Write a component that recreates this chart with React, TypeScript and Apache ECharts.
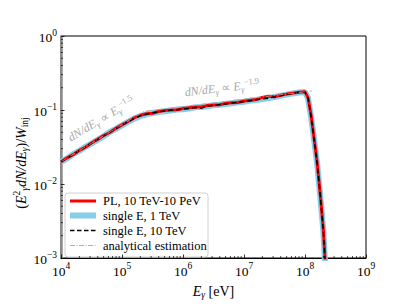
import React, { useEffect, useRef } from "react";
import * as echarts from "echarts";

// photon energies [eV]
const ENERGY = [
  1.0e4, 1.26e4, 1.58e4, 2.0e4, 2.51e4, 3.16e4, 3.98e4, 5.01e4, 6.31e4, 7.94e4,
  1.0e5, 1.26e5, 1.58e5, 2.0e5, 2.51e5, 3.16e5, 3.98e5, 5.01e5, 6.31e5, 7.94e5,
  1.0e6, 1.26e6, 1.58e6, 2.0e6, 2.51e6, 3.16e6, 3.98e6, 5.01e6, 6.31e6, 7.94e6,
  1.0e7, 1.26e7, 1.58e7, 2.0e7, 2.51e7, 3.16e7, 3.98e7, 5.01e7, 6.31e7, 7.94e7,
  1.0e8, 1.12e8, 1.26e8, 1.41e8, 1.58e8, 1.78e8, 2.0e8, 2.14e8,
];

const PL_10TEV_10PEV = [
  0.0200, 0.0226, 0.0249, 0.0285, 0.0314, 0.0358, 0.0401, 0.0452, 0.0497, 0.0565,
  0.0630, 0.0700, 0.0780, 0.0850, 0.0890, 0.0905, 0.0955, 0.0985, 0.1000, 0.1005,
  0.1045, 0.1070, 0.1095, 0.1100, 0.1150, 0.1170, 0.1175, 0.1230, 0.1250, 0.1265,
  0.1320, 0.1350, 0.1390, 0.1480, 0.1530, 0.1510, 0.1580, 0.1640, 0.1690, 0.1740,
  0.1760, 0.1470, 0.0840, 0.0410, 0.0195, 0.0072, 0.0024, 0.0009,
];

const SINGLE_1TEV = [
  0.0198, 0.0222, 0.0253, 0.0280, 0.0318, 0.0352, 0.0395, 0.0442, 0.0505, 0.0555,
  0.0620, 0.0690, 0.0765, 0.0825, 0.0875, 0.0910, 0.0940, 0.0960, 0.0985, 0.1015,
  0.1025, 0.1050, 0.1085, 0.1100, 0.1125, 0.1160, 0.1175, 0.1205, 0.1235, 0.1275,
  0.1295, 0.1340, 0.1365, 0.1405, 0.1445, 0.1495, 0.1555, 0.1615, 0.1675, 0.1725,
  0.1745, 0.1440, 0.0810, 0.0395, 0.0188, 0.0069, 0.0023, 0.0008,
];

const SINGLE_10TEV = [
  0.0201, 0.0223, 0.0250, 0.0283, 0.0315, 0.0356, 0.0397, 0.0448, 0.0499, 0.0561,
  0.0624, 0.0696, 0.0772, 0.0832, 0.0878, 0.0912, 0.0948, 0.0968, 0.0992, 0.1008,
  0.1032, 0.1052, 0.1078, 0.1060, 0.1128, 0.1152, 0.1182, 0.1208, 0.1242, 0.1268,
  0.1302, 0.1332, 0.1372, 0.1412, 0.1448, 0.1502, 0.1558, 0.1622, 0.1678, 0.1732,
  0.1752, 0.1452, 0.0822, 0.0402, 0.0191, 0.0070, 0.0023, 0.0009,
];

// analytical estimation (broken power law)
const ANALYTIC_E = [1.0e4, 2.29e5, 1.3e8];
const ANALYTIC_Y = [0.02, 0.096, 0.181];

// axis ticks
const X_DECADES = [4, 5, 6, 7, 8, 9];
const Y_DECADES = [-3, -2, -1, 0];
const MINOR_MULT = [2, 3, 4, 5, 6, 7, 8, 9];

const LEGEND_NAMES = ["PL, 10 TeV-10 PeV", "single E, 1 TeV", "single E, 10 TeV", "analytical estimation"];

const FONT = "Liberation Serif";
const GRAY = "#a6a6a6";
const BLUE = "#87ceeb";
const RED = "#ff0000";

const X_MINOR: number[] = [];
X_DECADES.slice(0, -1).forEach((d) => MINOR_MULT.forEach((m) => X_MINOR.push(m * Math.pow(10, d))));
const Y_MINOR: number[] = [];
Y_DECADES.slice(0, -1).forEach((d) => MINOR_MULT.forEach((m) => Y_MINOR.push(m * Math.pow(10, d))));

const X_MIN = 1e4, X_MAX = 1e9, Y_MIN = 1e-3, Y_MAX = 1;

const tickRich = {
  b: { fontFamily: FONT, fontSize: 13.5, color: "#000", lineHeight: 17, verticalAlign: "bottom" },
  e: { fontFamily: FONT, fontSize: 9.5, color: "#000", lineHeight: 11, verticalAlign: "top" },
};

const labelRich = {
  i: { fontFamily: FONT, fontStyle: "italic", fontSize: 14, color: "#000", lineHeight: 18, verticalAlign: "middle" },
  r: { fontFamily: FONT, fontSize: 14, color: "#000", lineHeight: 18, verticalAlign: "middle" },
  sub: { fontFamily: FONT, fontStyle: "italic", fontSize: 9.5, color: "#000", lineHeight: 10, verticalAlign: "bottom" },
};

const gRich = (c: string, size: number, small: number) => ({
  i: { fontFamily: FONT, fontStyle: "italic", fontSize: size, fill: c, lineHeight: size + 4, verticalAlign: "middle" },
  r: { fontFamily: FONT, fontSize: size, fill: c, lineHeight: size + 4, verticalAlign: "middle" },
  sub: { fontFamily: FONT, fontStyle: "italic", fontSize: small, fill: c, lineHeight: small + 1, verticalAlign: "bottom" },
  subr: { fontFamily: FONT, fontSize: small, fill: c, lineHeight: small + 1, verticalAlign: "bottom" },
  sup: { fontFamily: FONT, fontSize: small, fill: c, lineHeight: small + 2, verticalAlign: "top" },
});

function minorTickSeries(values: number[], horizontal: boolean) {
  return {
    type: "custom",
    silent: true,
    clip: false,
    z: 10,
    data: values.map((v) => (horizontal ? [v, Y_MIN] : [X_MIN, v])),
    renderItem: (params: any, api: any) => {
      const p = api.coord([api.value(0), api.value(1)]);
      return {
        type: "line",
        shape: horizontal
          ? { x1: p[0], y1: p[1], x2: p[0], y2: p[1] - 2 }
          : { x1: p[0], y1: p[1], x2: p[0] + 2, y2: p[1] },
        style: { stroke: "#000", lineWidth: 0.7 },
      };
    },
  };
}

function legendGraphic() {
  const x0 = 65, y0 = 193, w = 143, h = 64;
  const rows = [201, 215.5, 230.5, 245.5];
  const styles = [
    { stroke: RED, lineWidth: 3 },
    { stroke: BLUE, lineWidth: 6 },
    { stroke: "#000", lineWidth: 1.5, lineDash: [4.5, 2.5] },
    { stroke: GRAY, lineWidth: 0.9, lineDash: [5, 1.5, 1, 1.5] },
  ];
  const children: any[] = [
    {
      type: "rect",
      shape: { x: x0, y: y0, width: w, height: h, r: 3 },
      style: { fill: "rgba(255,255,255,0.85)", stroke: "#d0d0d0", lineWidth: 1 },
    },
  ];
  LEGEND_NAMES.forEach((name, i) => {
    children.push({
      type: "line",
      shape: { x1: 70, y1: rows[i], x2: 96, y2: rows[i] },
      style: styles[i],
    });
    children.push({
      type: "text",
      x: 103,
      y: rows[i],
      style: { text: name, fontFamily: FONT, fontSize: 12.5, fill: "#000", verticalAlign: "middle", align: "left" },
    });
  });
  return { type: "group", z: 30, children };
}

export default function App() {
  const ref = useRef<HTMLDivElement>(null);
  useEffect(() => {
    if (!ref.current) return;
    const chart = echarts.init(ref.current, null, { renderer: "svg" });
    const pair = (ys: number[]) => ENERGY.map((e, i) => [e, ys[i]]);
    chart.setOption({
      animation: false,
      backgroundColor: "#fff",
      grid: { left: 61, right: 41, top: 36, bottom: 43, show: true, borderColor: "#000", borderWidth: 1 },
      xAxis: {
        type: "log",
        logBase: 10,
        min: X_MIN,
        max: X_MAX,
        splitLine: { show: false },
        axisLine: { lineStyle: { color: "#000", width: 1 } },
        axisTick: { inside: true, length: 3.5, lineStyle: { color: "#000", width: 0.8 } },
        axisLabel: {
          margin: 3,
          formatter: (v: number) => `{b|10}{e|${Math.round(Math.log10(v))}}`,
          rich: tickRich,
        },
        name: "{i|E}{sub|γ}{r| [eV]}",
        nameLocation: "middle",
        nameGap: 24,
        nameTextStyle: { rich: labelRich },
      },
      yAxis: {
        type: "log",
        logBase: 10,
        min: Y_MIN,
        max: Y_MAX,
        splitLine: { show: false },
        axisLine: { lineStyle: { color: "#8c8c8c", width: 2.5 } },
        axisTick: { inside: true, length: 3.5, lineStyle: { color: "#000", width: 0.8 } },
        axisLabel: {
          margin: 4,
          formatter: (v: number) => {
            const p = Math.round(Math.log10(v));
            return `{b|10}{e|${p < 0 ? "−" + -p : p}}`;
          },
          rich: tickRich,
        },
      },
      series: [
        {
          name: LEGEND_NAMES[1],
          type: "line",
          symbol: "none",
          data: pair(SINGLE_1TEV),
          lineStyle: { color: BLUE, width: 6 },
          itemStyle: { color: BLUE },
          z: 2,
        },
        {
          name: LEGEND_NAMES[0],
          type: "line",
          symbol: "none",
          data: pair(PL_10TEV_10PEV),
          lineStyle: { color: RED, width: 3 },
          itemStyle: { color: RED },
          z: 3,
        },
        {
          name: LEGEND_NAMES[2],
          type: "line",
          symbol: "none",
          data: pair(SINGLE_10TEV),
          lineStyle: { color: "#000", width: 1.5, type: [5, 3] },
          itemStyle: { color: "#000" },
          z: 4,
        },
        {
          name: LEGEND_NAMES[3],
          type: "line",
          symbol: "none",
          data: ANALYTIC_E.map((e, i) => [e, ANALYTIC_Y[i]]),
          lineStyle: { color: GRAY, width: 0.8, type: [6, 2, 1, 2] },
          itemStyle: { color: GRAY },
          z: 5,
        },
        minorTickSeries(X_MINOR, true),
        minorTickSeries(Y_MINOR, false),
      ],
      graphic: [
        {
          type: "text",
          x: 21,
          y: 163,
          rotation: Math.PI / 2,
          style: {
            text: "{r|(}{i|E}{sup|2}{sub|γ}{i|dN/dE}{sub|γ}{r|)/}{i|W}{subr|inj}",
            rich: gRich("#000", 14, 9.5),
            align: "center",
            verticalAlign: "middle",
          },
          z: 20,
        },
        {
          type: "text",
          x: 101,
          y: 119,
          rotation: (31 * Math.PI) / 180,
          style: {
            text: "{i|dN/dE}{sub|γ}{r| ∝ }{i|E}{sub|γ}{sup|−1.5}",
            rich: gRich(GRAY, 12, 8.5),
            align: "center",
            verticalAlign: "middle",
          },
          z: 20,
        },
        {
          type: "text",
          x: 222,
          y: 88,
          rotation: (6.5 * Math.PI) / 180,
          style: {
            text: "{i|dN/dE}{sub|γ}{r| ∝ }{i|E}{sub|γ}{sup|−1.9}",
            rich: gRich(GRAY, 12, 8.5),
            align: "center",
            verticalAlign: "middle",
          },
          z: 20,
        },
        legendGraphic(),
      ],
    });
    return () => chart.dispose();
  }, []);
  return <div ref={ref} style={{ width: 407, height: 305, position: "absolute", left: 0, top: 0 }} />;
}
